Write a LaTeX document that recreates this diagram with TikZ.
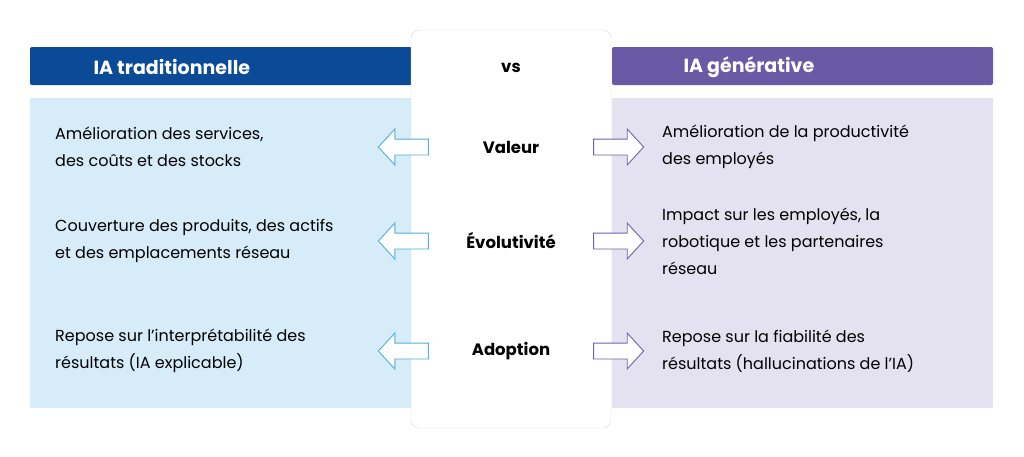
\documentclass[tikz,border=0pt]{standalone}
\usepackage{fontspec}
\setmainfont{Poppins}
\usetikzlibrary{shapes.arrows}
\definecolor{tradblue}{HTML}{0B4A96}
\definecolor{tradlight}{HTML}{D6ECF9}
\definecolor{genpurple}{HTML}{6A5AA6}
\definecolor{genlight}{HTML}{E4E1F1}
\definecolor{arrblue}{HTML}{4FB0D8}
\definecolor{arrpurple}{HTML}{6E62A8}
\tikzset{
  txt/.style={anchor=west,align=left,font=\fontsize{16}{27}\selectfont,inner sep=0},
  rowlabel/.style={font=\fontsize{16.5}{18}\selectfont\bfseries},
  blockarrow/.style={single arrow,draw,fill=white,line width=0.9pt,minimum height=50pt,
    inner xsep=0pt,inner ysep=7.5pt,text width=0pt,text height=0pt,text depth=0pt,
    single arrow head extend=10pt,single arrow tip angle=95}
}
\begin{document}
\begin{tikzpicture}[x=1pt,y=-1pt]
\useasboundingbox (0,0) rectangle (1024,456);
% panels
\fill[tradlight] (30,98) rectangle (412,408);
\fill[genlight] (612,98) rectangle (993,408);
\fill[tradblue,rounded corners=2pt] (30,47) rectangle (412,85);
\fill[genpurple,rounded corners=2pt] (612,47) rectangle (993,85);
\draw[gray!30,fill=white,rounded corners=8pt] (411,30) rectangle (611,428);
\node[anchor=west,text=white,font=\fontsize{19}{21}\selectfont\bfseries] (trad) at (90,67) {IA traditionnelle};
\node[anchor=west,text=white,font=\fontsize{19}{21}\selectfont\bfseries] (gen) at (680,67) {IA générative};
\node[rowlabel] (vs) at (511,68) {vs};
% rows
\foreach \y/\lab/\name in {147/Valeur/val,241/Évolutivité/evo,351/Adoption/ado}{
  \node[rowlabel] (\name) at (511,\y) {\lab};
  \node[blockarrow,draw=arrblue,shape border rotate=180] (\name-l) at (407,\y) {};
  \node[blockarrow,draw=arrpurple] (\name-r) at (615,\y) {};
}
\node[txt] (t1) at (55,147) {Amélioration des services,\\des coûts et des stocks};
\node[txt] (t2) at (55,241) {Couverture des produits, des actifs\\et des emplacements réseau};
\node[txt] (t3) at (55,351) {Repose sur l’interprétabilité des\\résultats (IA explicable)};
\node[txt] (g1) at (662,147) {Amélioration de la productivité\\des employés};
\node[txt] (g2) at (662,241) {Impact sur les employés, la\\robotique et les partenaires\\réseau};
\node[txt] (g3) at (662,351) {Repose sur la fiabilité des\\résultats (hallucinations de l’IA)};
\end{tikzpicture}
\end{document}
